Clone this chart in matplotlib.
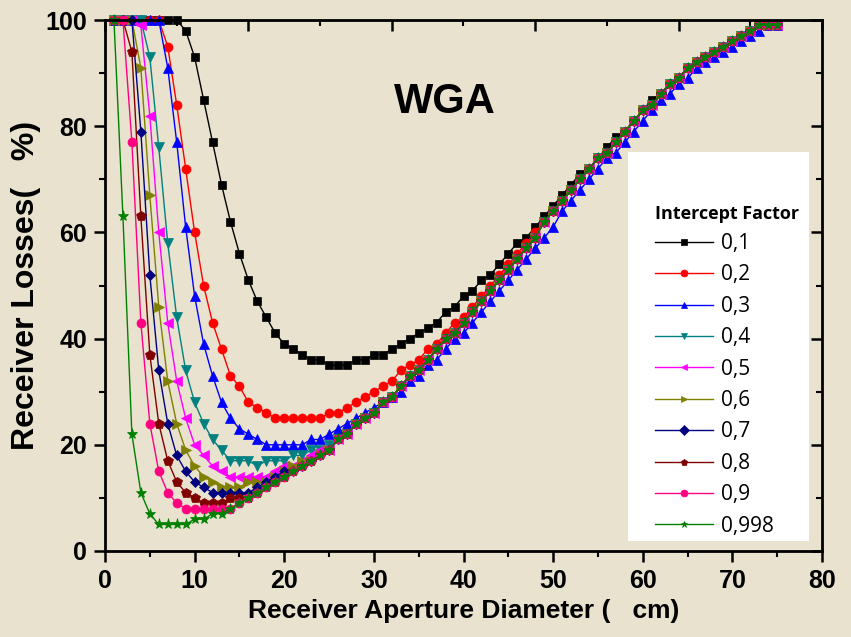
import matplotlib
matplotlib.use("Agg")
import matplotlib.pyplot as plt
from matplotlib.patches import Rectangle
from matplotlib.ticker import MultipleLocator

# Receiver aperture diameter (cm)
x = list(range(1, 76))

# Intercept factor 0,998 - the other curves merge into this one on the right
f0998 = [100, 63, 22, 11, 7, 5, 5, 5, 5, 6, 6, 7, 7, 8, 9, 10, 11, 12, 13, 14,
         15, 16, 17, 18, 19, 21, 22, 24, 25, 26, 28, 29, 31, 33, 34, 36, 38, 40, 41, 43,
         45, 47, 49, 51, 53, 55, 57, 59, 62, 64, 66, 68, 70, 72, 74, 75, 77, 79, 81, 83,
         84, 86, 88, 89, 91, 92, 93, 94, 95, 96, 97, 98, 99, 99, 99]

f01 = [100, 100, 100, 100, 100, 100, 100, 100, 98, 93, 85, 77, 69, 62, 56, 51, 47, 44, 41, 39,
       38, 37, 36, 36, 35, 35, 35, 36, 36, 37, 37, 38, 39, 40, 41, 42, 43, 45, 46, 48,
       49, 51, 52, 54, 56, 58, 59, 61, 63, 65, 67, 69, 71, 72, 74, 76, 78, 79, 81, 83,
       85, 86, 88, 89, 91, 92, 93, 94, 95, 96, 97, 98, 99, 99, 99]

f03 = [100, 100, 100, 100, 100, 100, 91, 77, 61, 48, 39, 33, 28, 25, 23, 22, 21, 20, 20, 20,
       20, 20, 21, 21, 22, 23, 24, 25, 26, 27, 28, 29, 30, 32, 33, 35, 36, 38, 40, 41,
       43, 45, 47, 49, 51, 53, 55, 57, 59, 61, 64, 66, 68, 70, 72, 74, 75, 77, 79, 81,
       83, 85, 86, 88, 89, 91, 92, 93, 94, 95, 96, 97, 98, 99, 99]

# left branches (x = 1 ...) of the curves that then join the 0,998 curve
f02_head = [100, 100, 100, 100, 100, 100, 95, 84, 72, 60, 50, 43, 38, 33, 31, 28, 27, 26, 25, 25,
            25, 25, 25, 25, 26, 26, 27, 28, 29, 30, 31, 32, 34, 35, 36, 38, 39, 41, 43, 44,
            46, 48, 50, 52, 54, 56, 58, 60]
f04_head = [100, 100, 100, 100, 93, 76, 58, 44, 34, 28, 24, 21, 19, 17, 17, 17, 16, 17, 17, 17,
            18, 18, 19, 19, 20]
f05_head = [100, 100, 100, 99, 82, 60, 43, 32, 25, 20, 18, 16, 15, 14, 14, 14, 14, 14, 15, 16,
            16, 17, 18, 19]
f06_head = [100, 100, 100, 91, 67, 46, 32, 24, 19, 16, 14, 13, 12, 12, 12, 13, 13, 13, 14, 15,
            16, 17]
f07_head = [100, 100, 100, 79, 52, 34, 24, 18, 15, 13, 12, 11, 11, 11, 11, 11, 12, 13, 14, 15]
f08_head = [100, 100, 94, 63, 37, 24, 17, 13, 11, 10, 9, 9, 9, 10, 10, 10]
f09_head = [100, 100, 77, 43, 24, 15, 11, 9, 8, 8, 8, 8, 8, 8]


def join(head):
    return head + f0998[len(head):]


labels = ['0,1', '0,2', '0,3', '0,4', '0,5', '0,6', '0,7', '0,8', '0,9', '0,998']
series = [f01, join(f02_head), f03, join(f04_head), join(f05_head), join(f06_head),
          join(f07_head), join(f08_head), join(f09_head), f0998]
colors = ['#000000', '#ff0000', '#0000ff', '#008080', '#ff00ff', '#808000',
          '#000080', '#800000', '#ff0080', '#008000']
markers = ['s', 'o', '^', 'v', '<', '>', 'D', 'p', 'o', '*']
msizes = [5.5, 6.5, 7, 7, 7, 7, 5.5, 7, 6.5, 8]

bg = '#e8e2cf'
narrow = ['Liberation Sans Narrow', 'Liberation Sans', 'DejaVu Sans']

fig = plt.figure(figsize=(8.51, 6.37), dpi=100)
fig.patch.set_facecolor(bg)
ax = fig.add_axes([105 / 851, 1 - 551 / 637, 717 / 851, 531 / 637])
ax.set_facecolor(bg)

lines = []
for ys, lab, c, mk, ms in zip(series, labels, colors, markers, msizes):
    ln, = ax.plot(x, ys, color=c, marker=mk, markersize=ms, lw=1.0,
                  markeredgewidth=0.5, label=lab, clip_on=False)
    lines.append(ln)

ax.set_xlim(0, 80)
ax.set_ylim(0, 100)
ax.xaxis.set_major_locator(MultipleLocator(10))
ax.xaxis.set_minor_locator(MultipleLocator(5))
ax.yaxis.set_major_locator(MultipleLocator(20))
ax.yaxis.set_minor_locator(MultipleLocator(10))
ax.tick_params(which='major', direction='out', length=8, width=1.8, pad=5)
ax.tick_params(which='minor', direction='out', length=4, width=1.5)
for sp in ax.spines.values():
    sp.set_linewidth(2)

for t in ax.get_xticklabels() + ax.get_yticklabels():
    t.set_fontfamily(narrow)
    t.set_fontweight('bold')
    t.set_fontsize(18)

# mirror axes with ticks pointing in
top = ax.secondary_xaxis('top')
top.xaxis.set_major_locator(MultipleLocator(16))
top.xaxis.set_minor_locator(MultipleLocator(8))
top.tick_params(which='major', direction='in', length=8, width=1.8, labeltop=False)
top.tick_params(which='minor', direction='in', length=4, width=1.5)
right = ax.secondary_yaxis('right')
right.yaxis.set_major_locator(MultipleLocator(20))
right.yaxis.set_minor_locator(MultipleLocator(10))
right.tick_params(which='major', direction='in', length=8, width=1.8, labelright=False)
right.tick_params(which='minor', direction='in', length=4, width=1.5)

ax.set_xlabel('Receiver Aperture Diameter (   cm)', fontfamily=narrow,
              fontweight='bold', fontsize=19, labelpad=4)
ax.set_ylabel('Receiver Losses(   %)', fontfamily=narrow,
              fontweight='bold', fontsize=23, labelpad=3)

ax.text(0.474, 0.845, 'WGA', transform=ax.transAxes, ha='center', va='center',
        fontfamily='Liberation Sans', fontweight='bold', fontsize=30)

# white legend panel
fig.patches.append(Rectangle((628 / 851, 1 - 541 / 637), 181 / 851, 389 / 637,
                             transform=fig.transFigure, facecolor='white',
                             edgecolor='none', zorder=5))
leg = fig.legend(handles=lines, labels=labels, loc='upper left',
                 bbox_to_anchor=(640 / 851, 1 - 190 / 637), frameon=False,
                 title='Intercept Factor', alignment='left',
                 prop={'family': 'Open Sans', 'size': 15},
                 title_fontproperties={'family': 'Open Sans', 'weight': 'bold', 'size': 13},
                 handlelength=2.8, handletextpad=0.4, labelspacing=0.5,
                 borderpad=0.2)
leg.set_zorder(6)
for h in leg.legend_handles:
    h.set_markersize(5)

fig.savefig('out.png', dpi=100, facecolor=bg)
